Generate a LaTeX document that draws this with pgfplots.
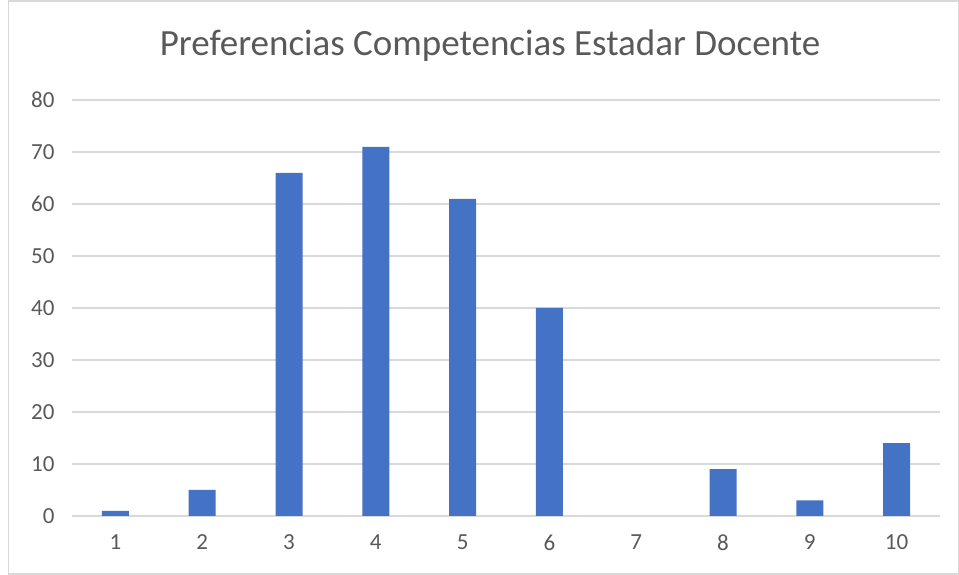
\documentclass[border=0pt]{standalone}
\usepackage{pgfplots}
\pgfplotsset{compat=1.18}
\usepackage{fontspec}
\setmainfont{Carlito}
\definecolor{barblue}{HTML}{4472C4}
\definecolor{txtgray}{HTML}{595959}
\definecolor{gridgray}{HTML}{D9D9D9}
\begin{document}
\begin{tikzpicture}[x=1pt,y=1pt]
\path[use as bounding box] (0,0) rectangle (959,575);
\draw[gridgray, line width=1.2pt] (8.5,1) rectangle (958.5,574);
\node[txtgray, font=\fontsize{37}{44}\selectfont] at (490,529) {Preferencias Competencias Estadar Docente};
\begin{axis}[
  at={(72pt,59pt)}, anchor=origin,
  scale only axis, width=868pt, height=416pt,
  ymin=0, ymax=80, ytick={0,10,...,80},
  xmin=0.5, xmax=10.5, xtick={1,...,10},
  ybar, bar width=27pt,
  axis line style={draw=none},
  axis x line*=bottom, axis y line*=left,
  x axis line style={gridgray, line width=1.5pt},
  ymajorgrids, grid style={gridgray, line width=1.5pt},
  major tick length=0pt,
  tick label style={txtgray, font=\fontsize{23}{27}\selectfont},
  /pgf/number format/assume math mode=true,
  yticklabel style={xshift=-14pt},
  xticklabel style={yshift=-15pt},
]
\addplot[fill=barblue, draw=none] coordinates {(1,1) (2,5) (3,66) (4,71) (5,61) (6,40) (8,9) (9,3) (10,14)};
\end{axis}
\end{tikzpicture}
\end{document}
